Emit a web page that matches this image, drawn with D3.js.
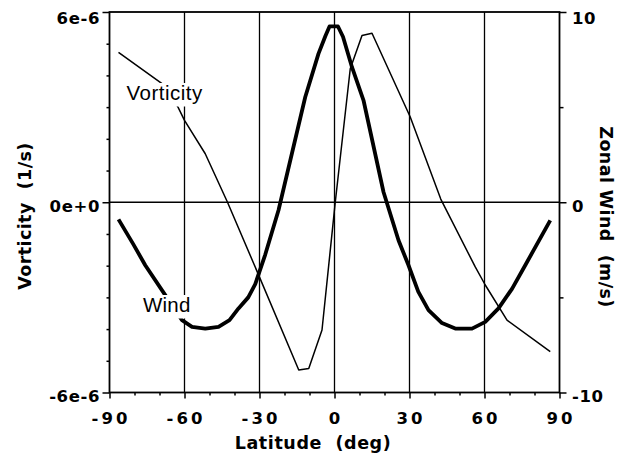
<!DOCTYPE html>
<html>
<head>
<meta charset="utf-8">
<script src="https://cdn.jsdelivr.net/npm/d3@7"></script>
<style>
  html, body { margin: 0; padding: 0; background: #fff; }
  svg { display: block; }
</style>
</head>
<body>
<svg id="chart" width="625" height="463"></svg>
<script>
// Latitude ticks (degrees)
const latTicks = [-90, -60, -30, 0, 30, 60, 90];
const latMinor = [-80, -70, -50, -40, -20, -10, 10, 20, 40, 50, 70, 80];

// Left axis: relative vorticity (1/s)
const vortTicks = [-6e-6, 0, 6e-6];
const vortTickLabels = ["-6e-6", "0e+0", "6e-6"];
const vortMinor = [-5e-6, -4e-6, -3e-6, -2e-6, -1e-6, 1e-6, 2e-6, 3e-6, 4e-6, 5e-6];

// Right axis: zonal wind (m/s)
const windTicks = [-10, 0, 10];
const windTickLabels = ["-10", "0", "10"];
const windMinor = [-5, 5];

// Vorticity profile (1/s) against latitude
const vortLat = [-86.4, -69, -62.6, -60, -51.7, -42.8, -30, -14.3, -10.3, -5, 0.3, 6.3, 11, 15, 30.3, 42.5, 56.3, 60.3, 69, 86.3];
const vortVal = [4.73e-6, 3.74e-6, 3.0e-6, 2.58e-6, 1.53e-6, 0.0, -2.36e-6, -5.29e-6, -5.24e-6, -4.03e-6, 0.0, 4.21e-6, 5.26e-6, 5.33e-6, 2.69e-6, 0.1e-6, -2.04e-6, -2.61e-6, -3.72e-6, -4.71e-6];

// Zonal wind profile (m/s) against latitude
const windLat = [-86.4, -80.5, -75.7, -67.7, -61, -57, -51.7, -46.4, -42, -38.4, -34.5, -31.7, -27.7, -22.4, -11.7, -6.4, -3.6, -2.0, 1.4, 3.4, 7.0, 11.6, 19.6, 25.6, 29.6, 33.5, 37.6, 43, 48.3, 55, 60.3, 65.6, 71, 76.3, 86.3];
const windVal = [-0.9, -2.2, -3.31, -4.88, -6.2, -6.55, -6.64, -6.55, -6.2, -5.58, -5.0, -4.3, -2.75, -0.42, 5.53, 7.81, 8.75, 9.24, 9.24, 8.7, 7.1, 5.36, 0.54, -2.0, -3.31, -4.7, -5.67, -6.35, -6.64, -6.64, -6.29, -5.58, -4.55, -3.31, -0.95];

const svg = d3.select("#chart");
const plotLeft = 109.5, plotRight = 559.5, plotTop = 12, plotBottom = 392.5;

const x = d3.scaleLinear().domain([-90, 90]).range([plotLeft, plotRight]);
const yL = d3.scaleLinear().domain([-6e-6, 6e-6]).range([plotBottom, plotTop]);
const yR = d3.scaleLinear().domain([-10, 10]).range([plotBottom, plotTop]);

const axisFont = "'DejaVu Sans', sans-serif";

// grid lines
const grid = svg.append("g").attr("stroke", "#000").attr("stroke-width", 1.3);
grid.selectAll("line.v").data(latTicks.slice(1, -1)).join("line")
  .attr("x1", d => x(d)).attr("x2", d => x(d))
  .attr("y1", plotTop).attr("y2", plotBottom);
grid.append("line")
  .attr("x1", plotLeft).attr("x2", plotRight)
  .attr("y1", yL(0)).attr("y2", yL(0));

// axes: major and minor ticks
function styleAxis(g) {
  g.select(".domain").remove();
  g.selectAll("line").attr("stroke", "#000").attr("stroke-width", 1.5);
  g.selectAll("text").remove();
}
svg.append("g").attr("transform", `translate(0,${plotBottom})`)
  .call(d3.axisBottom(x).tickValues(latTicks).tickSize(6)).call(styleAxis);
svg.append("g").attr("transform", `translate(0,${plotBottom})`)
  .call(d3.axisBottom(x).tickValues(latMinor).tickSize(3)).call(styleAxis);
svg.append("g").attr("transform", `translate(${plotLeft},0)`)
  .call(d3.axisLeft(yL).tickValues(vortTicks).tickSize(7)).call(styleAxis);
svg.append("g").attr("transform", `translate(${plotLeft},0)`)
  .call(d3.axisLeft(yL).tickValues(vortMinor).tickSize(3)).call(styleAxis);
svg.append("g").attr("transform", `translate(${plotRight},0)`)
  .call(d3.axisRight(yR).tickValues(windTicks).tickSize(7)).call(styleAxis);
svg.append("g").attr("transform", `translate(${plotRight},0)`)
  .call(d3.axisRight(yR).tickValues(windMinor).tickSize(4)).call(styleAxis);

// frame
svg.append("rect")
  .attr("x", plotLeft).attr("y", plotTop)
  .attr("width", plotRight - plotLeft).attr("height", plotBottom - plotTop)
  .attr("fill", "none").attr("stroke", "#000").attr("stroke-width", 1.8);

// tick labels
const labelShift = v => (v === 6e-6 || v === 10) ? 11.5 : 9.5;
svg.append("g").selectAll("text").data(vortTicks).join("text")
  .attr("x", 100).attr("y", d => yL(d) + labelShift(d))
  .attr("text-anchor", "end")
  .attr("font-family", axisFont).attr("font-weight", "bold")
  .attr("font-size", 16.5).attr("letter-spacing", 0.6)
  .text((d, i) => vortTickLabels[i]);
svg.append("g").selectAll("text").data(windTicks).join("text")
  .attr("x", 572).attr("y", d => yR(d) + labelShift(d))
  .attr("text-anchor", "start")
  .attr("font-family", axisFont).attr("font-weight", "bold")
  .attr("font-size", 16.5).attr("letter-spacing", 0.6)
  .text((d, i) => windTickLabels[i]);
svg.append("g").selectAll("text").data(latTicks).join("text")
  .attr("x", d => x(d) + 1.5).attr("y", 424)
  .attr("text-anchor", "middle")
  .attr("font-family", axisFont).attr("font-weight", "bold")
  .attr("font-size", 16.5).attr("letter-spacing", 3)
  .text(d => String(d));

// axis titles
svg.append("text")
  .attr("x", 313).attr("y", 449)
  .attr("text-anchor", "middle")
  .attr("font-family", axisFont).attr("font-weight", "bold")
  .attr("font-size", 17.5).attr("letter-spacing", 0.6)
  .attr("xml:space", "preserve")
  .text("Latitude  (deg)");
svg.append("text")
  .attr("transform", "translate(31,216) rotate(-90)")
  .attr("text-anchor", "middle")
  .attr("font-family", axisFont).attr("font-weight", "bold")
  .attr("font-size", 17.5).attr("letter-spacing", 0.4)
  .attr("xml:space", "preserve")
  .text("Vorticity  (1/s)");
svg.append("text")
  .attr("transform", "translate(600,217) rotate(90)")
  .attr("text-anchor", "middle")
  .attr("font-family", axisFont).attr("font-weight", "bold")
  .attr("font-size", 17.5).attr("letter-spacing", 0.4)
  .attr("xml:space", "preserve")
  .text("Zonal Wind  (m/s)");

// curves
const vortData = vortLat.map((d, i) => [d, vortVal[i]]);
const windData = windLat.map((d, i) => [d, windVal[i]]);

svg.append("path")
  .datum(vortData)
  .attr("fill", "none").attr("stroke", "#000").attr("stroke-width", 1.5)
  .attr("stroke-linejoin", "round")
  .attr("d", d3.line().x(d => x(d[0])).y(d => yL(d[1])));

svg.append("path")
  .datum(windData)
  .attr("fill", "none").attr("stroke", "#000").attr("stroke-width", 3.8)
  .attr("stroke-linejoin", "round").attr("stroke-linecap", "butt")
  .attr("d", d3.line().x(d => x(d[0])).y(d => yR(d[1])));

// in-plot series labels with a white knockout behind them
function seriesLabel(txt, tx, ty, spacing) {
  const g = svg.append("g");
  const rect = g.append("rect").attr("fill", "#fff");
  const t = g.append("text")
    .attr("x", tx).attr("y", ty)
    .attr("font-family", "'Liberation Sans', Arial, sans-serif")
    .attr("font-size", 20.5)
    .attr("letter-spacing", spacing)
    .text(txt);
  const bb = t.node().getBBox();
  rect.attr("x", bb.x - 2).attr("y", ty - 16.5)
    .attr("width", bb.width + 4).attr("height", 23.5);
}
seriesLabel("Vorticity", 126.5, 99.5, 0.5);
seriesLabel("Wind", 143, 311.5, 0.2);
</script>
</body>
</html>
